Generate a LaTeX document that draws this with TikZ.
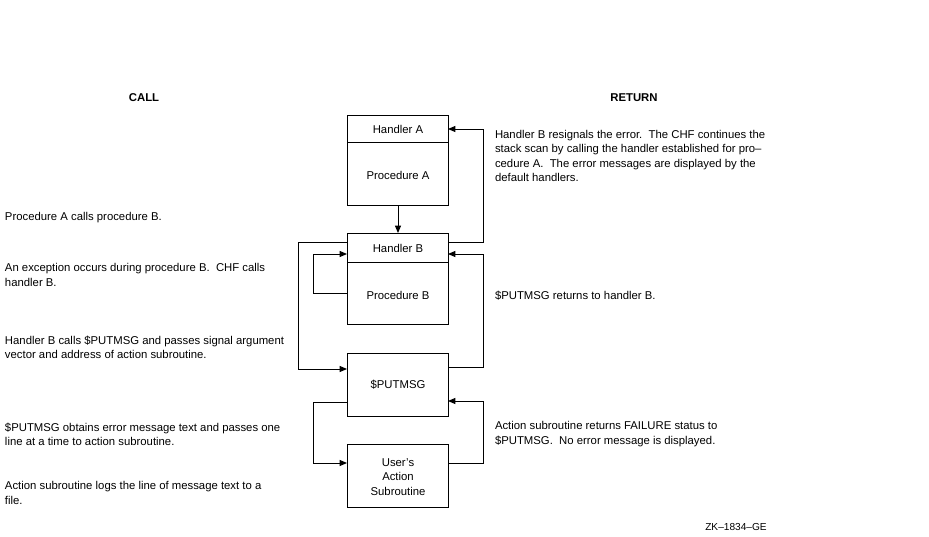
\documentclass[tikz,border=0pt]{standalone}
\usepackage{fontspec}
\setmainfont{Liberation Sans}
\usetikzlibrary{arrows.meta}
\begin{document}
\begin{tikzpicture}[x=0.75pt,y=-0.75pt,
  every node/.style={inner sep=0pt,outer sep=0pt},
  txt/.style={anchor=west,align=left,font=\fontsize{8.5}{10.6}\selectfont},
  lbl/.style={font=\fontsize{8.5}{10.8}\selectfont,align=center},
  head/.style={font=\bfseries\fontsize{8.5}{10}\selectfont},
  box/.style={draw,line width=0.75pt},
  conn/.style={line width=0.7pt},
  arr/.style={conn,-{Triangle[length=5.5pt,width=4.5pt]}}]
\useasboundingbox (0,0) rectangle (929,536);
% boxes
\draw[box] (347,115) rectangle (448,205);
\draw[box] (347,142) -- (448,142);
\draw[box] (347,233) rectangle (448,324);
\draw[box] (347,262) -- (448,262);
\draw[box] (347,353) rectangle (448,416);
\draw[box] (347,444) rectangle (448,507);
\node[lbl] (ha) at (398,129) {Handler A};
\node[lbl] (pa) at (398,175) {Procedure A};
\node[lbl] (hb) at (398,248) {Handler B};
\node[lbl] (pb) at (398,295) {Procedure B};
\node[lbl] (pm) at (398,385) {\$PUTMSG};
\node[lbl] (us) at (398,477) {User's\\Action\\Subroutine};
\coordinate (aBot) at (398,205);
\coordinate (bTop) at (398,233);
\coordinate (bLtop) at (347,242);
\coordinate (bLin) at (347,254);
\coordinate (bLout) at (347,293);
\coordinate (bRtop) at (448,242);
\coordinate (bRin) at (448,254);
\coordinate (aRin) at (448,129);
\coordinate (pLin) at (347,369);
\coordinate (pLout) at (347,402);
\coordinate (pRout) at (448,367);
\coordinate (pRin) at (448,401);
\coordinate (uLin) at (347,463);
\coordinate (uRout) at (448,463);
% connectors
\draw[arr] (aBot) -- (bTop);
\draw[arr] (bLtop) -- (298,242) -- (298,369) -- (pLin);
\draw[arr] (bLout) -- (313,293) -- (313,254) -- (bLin);
\draw[arr] (bRtop) -- (483,242) -- (483,129) -- (aRin);
\draw[arr] (pRout) -- (483,367) -- (483,254) -- (bRin);
\draw[arr] (pLout) -- (313,402) -- (313,463) -- (uLin);
\draw[arr] (uRout) -- (483,463) -- (483,401) -- (pRin);
% headings
\node[head] (call) at (144,98) {CALL};
\node[head] (ret) at (634,98) {RETURN};
% left texts
\node[txt] (t1) at (5,218) {Procedure A calls procedure B.};
\node[txt] (t2) at (5,275) {An exception occurs during procedure B.\ \ CHF calls\\handler B.};
\node[txt] (t3) at (5,347) {Handler B calls \$PUTMSG and passes signal argument\\vector and address of action subroutine.};
\node[txt] (t4) at (5,434) {\$PUTMSG obtains error message text and passes one\\line at a time to action subroutine.};
\node[txt] (t5) at (5,493) {Action subroutine logs the line of message text to a\\file.};
% right texts
\node[txt] (r1) at (495,156) {Handler B resignals the error.\ \ The CHF continues the\\stack scan by calling the handler established for pro--\\cedure A.\ \ The error messages are displayed by the\\default handlers.};
\node[txt] (r2) at (495,296) {\$PUTMSG returns to handler B.};
\node[txt] (r3) at (495,434) {Action subroutine returns FAILURE status to\\\$PUTMSG.\ \ No error message is displayed.};
\node[font=\fontsize{7.6}{8}\selectfont] (zk) at (736,527) {ZK--1834--GE};
\end{tikzpicture}
\end{document}
